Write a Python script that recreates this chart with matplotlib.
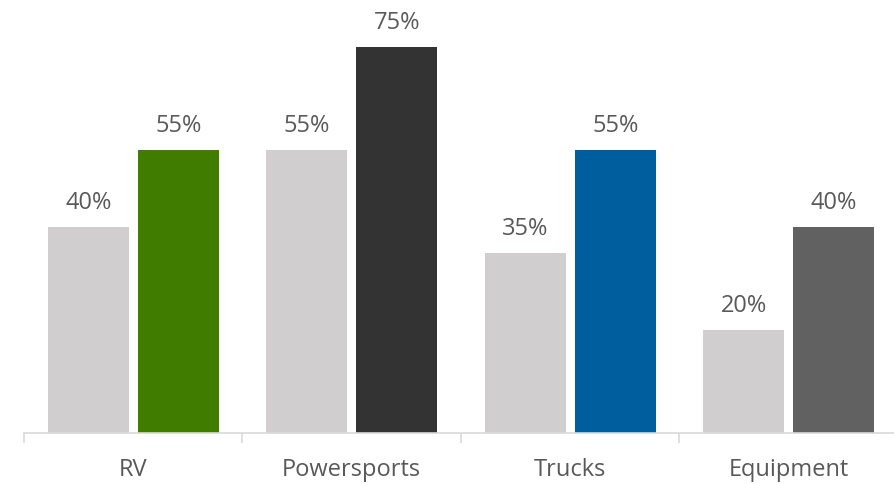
import matplotlib.pyplot as plt
import numpy as np

plt.rcParams['font.family'] = ['Open Sans', 'DejaVu Sans']

categories = ['RV', 'Powersports', 'Trucks', 'Equipment']
prior = [40, 55, 35, 20]
current = [55, 75, 55, 40]
current_colors = ['#3f7c00', '#333333', '#005e9e', '#616161']

fig = plt.figure(figsize=(8.95, 4.84), dpi=100)
ax = fig.add_axes([24/895, 51/484, 874/895, 433/484])

x = np.arange(len(categories))
w = 0.371
off = 0.206
ax.bar(x - off, prior, w, color='#d0cecf')
ax.bar(x + off, current, w, color=current_colors)

txt = '#595959'
for i in range(len(categories)):
    ax.annotate(f'{prior[i]}%', (x[i] - off, prior[i]), xytext=(0, 13), textcoords='offset points',
                ha='center', va='baseline', fontsize=17, color=txt)
    ax.annotate(f'{current[i]}%', (x[i] + off, current[i]), xytext=(0, 13), textcoords='offset points',
                ha='center', va='baseline', fontsize=17, color=txt)
    ax.annotate(categories[i], (x[i], 0), xycoords=('data', 'axes fraction'), xytext=(0, -31),
                textcoords='offset points', ha='center', va='baseline', fontsize=17, color=txt,
                annotation_clip=False)

ax.set_xlim(-0.5, 3.5)
ax.set_ylim(0, 433/5.147)
for s in ['top', 'right', 'left']:
    ax.spines[s].set_visible(False)
ax.spines['bottom'].set_color('#d9d9d9')
ax.spines['bottom'].set_linewidth(1.2)
ax.set_yticks([])
ax.set_xticks(np.arange(-0.5, 4, 1))
ax.set_xticklabels([])
ax.tick_params(axis='x', length=7.5, width=1.2, color='#d9d9d9')

fig.savefig('out.png', dpi=100)
